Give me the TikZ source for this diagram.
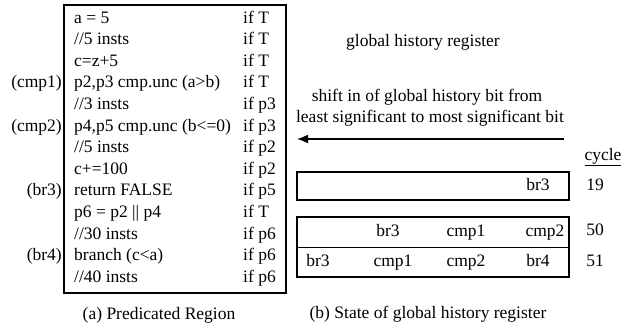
\documentclass[tikz,border=0pt]{standalone}
\usepackage{fontspec}
\setmainfont{Liberation Serif}
\usetikzlibrary{arrows.meta}
\begin{document}
\begin{tikzpicture}[x=1pt,y=-1pt,
    every node/.style={font=\fontsize{17.5}{21}\selectfont,inner sep=0pt,text height=12pt,text depth=4pt},
    code/.style={anchor=west},
    tag/.style={anchor=east},
    frame/.style={line width=1.6pt}]
    \useasboundingbox (0,0) rectangle (633,327);
    % predicated region
    \draw[frame] (64,5) rectangle (286,293);
    \node[code] (i0) at (74,19){a = 5};          \node[code] (p0) at (243,19){if T};
    \node[code] (i1) at (74,40.6){//5 insts};     \node[code] (p1) at (243,40.6){if T};
    \node[code] (i2) at (74,62.2){c=z+5};         \node[code] (p2) at (243,62.2){if T};
    \node[code] (i3) at (74,83.8){p2,p3 cmp.unc (a>b)};  \node[code] (p3) at (243,83.8){if T};
    \node[code] (i4) at (74,105.4){//3 insts};    \node[code] (p4) at (243,105.4){if p3};
    \node[code] (i5) at (74,127){p4,p5 cmp.unc (b<=0)};  \node[code] (p5) at (243,127){if p3};
    \node[code] (i6) at (74,148.6){//5 insts};    \node[code] (p6) at (243,148.6){if p2};
    \node[code] (i7) at (74,170.2){c+=100};       \node[code] (p7) at (243,170.2){if p2};
    \node[code] (i8) at (74,191.8){return FALSE}; \node[code] (p8) at (243,191.8){if p5};
    \node[code] (i9) at (74,213.4){p6 = p2 || p4};\node[code] (p9) at (243,213.4){if T};
    \node[code] (i10) at (74,235){//30 insts};    \node[code] (p10) at (243,235){if p6};
    \node[code] (i11) at (74,256.6){branch (c<a)};\node[code] (p11) at (243,256.6){if p6};
    \node[code] (i12) at (74,278.2){//40 insts};  \node[code] (p12) at (243,278.2){if p6};
    \node[tag] (cmp1) at (62,83.8){(cmp1)};
    \node[tag] (cmp2) at (62,127){(cmp2)};
    \node[tag] (br3) at (62,191.8){(br3)};
    \node[tag] (br4) at (62,256.6){(br4)};
    \node (capa) at (159,315){(a) Predicated Region};
    % global history register
    \node (ghr) at (423,42){global history register};
    \node (shift1) at (427,97){shift in of global history bit from};
    \node (shift2) at (430,118){least significant to most significant bit};
    \coordinate (lsb) at (564,139);
    \coordinate (msb) at (297,139);
    \draw[frame,-{Latex[length=11pt,width=9pt]}] (lsb) -- (msb);
    \node (cycle) at (603,156){\underline{cycle}};
    \draw[frame] (297,172) rectangle (569,200);
    \draw[frame] (297,217) rectangle (569,277);
    \draw[frame] (297,247.5) -- (569,247.5);
    \node (a19) at (538,186){br3};
    \node (b50) at (388,232){br3};
    \node (c50) at (466,232){cmp1};
    \node (d50) at (545,232){cmp2};
    \node (a51) at (318,262){br3};
    \node (b51) at (393,262){cmp1};
    \node (c51) at (466,262){cmp2};
    \node (d51) at (538,262){br4};
    \node (n19) at (595,186){19};
    \node (n50) at (595,231){50};
    \node (n51) at (595,262){51};
    \node (capb) at (428,314){(b) State of global history register};
\end{tikzpicture}
\end{document}
